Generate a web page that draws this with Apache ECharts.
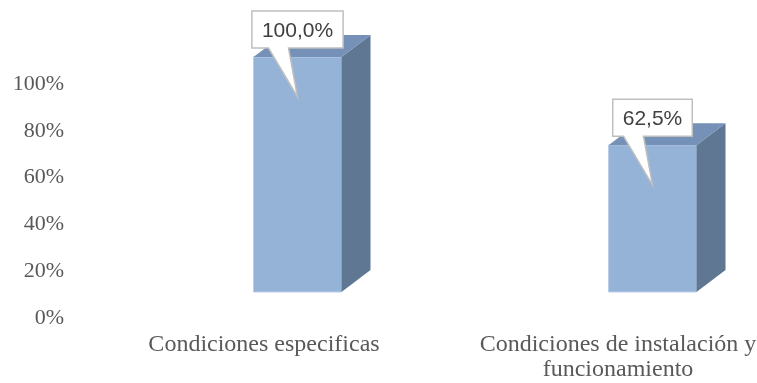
<!DOCTYPE html>
<html>
<head>
<meta charset="utf-8">
<script src="https://cdn.jsdelivr.net/npm/echarts@6/dist/echarts.min.js"></script>
<style>html,body{margin:0;padding:0;background:#fff;}#c{width:757px;height:383px;}</style>
</head>
<body>
<div id="c"></div>
<script>
var categories = ['Condiciones especificas', 'Condiciones de instalación y\nfuncionamiento'];
var values = [1.0, 0.625];
var valueLabels = ['100,0%', '62,5%'];
var yTicks = [0, 0.2, 0.4, 0.6, 0.8, 1.0];

var chart = echarts.init(document.getElementById('c'), null, {renderer: 'canvas'});
var measureCtx = document.createElement('canvas').getContext('2d');
var LABEL_FONT = '21px "Liberation Sans", Arial, sans-serif';
measureCtx.font = LABEL_FONT;

var FRONT_W = 88, DX = 29, DY = 22;

function renderBar(params, api) {
  var idx = api.value(0);
  var top = api.coord([idx, api.value(1)]);
  var base = api.coord([idx, 0]);
  var cx = top[0];
  var x0 = cx - FRONT_W / 2, x1 = cx + FRONT_W / 2;
  var yt = top[1], yb = base[1];
  var text = valueLabels[params.dataIndex];
  var w = measureCtx.measureText(text).width + 20;
  var boxB = yt - 9, boxT = boxB - 37;
  var boxL = cx - w / 2, boxR = cx + w / 2;
  return {
    type: 'group',
    children: [
      {type: 'rect', shape: {x: x0, y: yt, width: FRONT_W, height: yb - yt},
       style: {fill: '#95B3D7', stroke: '#B9CDE6', lineWidth: 1}},
      {type: 'polygon', shape: {points: [[x1, yb], [x1 + DX, yb - DY], [x1 + DX, yt - DY], [x1, yt]]},
       style: {fill: '#5F7793'}},
      {type: 'polygon', shape: {points: [[x0, yt], [x1, yt], [x1 + DX, yt - DY], [x0 + DX, yt - DY]]},
       style: {fill: '#7591B8'}},
      {type: 'polygon', z2: 10, shape: {points: [[boxL, boxT], [boxR, boxT], [boxR, boxB], [cx - 9, boxB], [cx, yt + 40], [cx - 29, boxB], [boxL, boxB]]},
       style: {fill: '#FFFFFF', stroke: '#BFBFBF', lineWidth: 1.5}},
      {type: 'text', z2: 11, style: {text: text, x: cx, y: (boxT + boxB) / 2 + 2, align: 'center', verticalAlign: 'middle',
       font: LABEL_FONT, fill: '#404040'}}
    ]
  };
}

var option = {
  animation: false,
  backgroundColor: '#ffffff',
  grid: [
    {left: 87, width: 708, top: 84, height: 234, containLabel: false, outerBoundsMode: 'none'},
    {left: 120, width: 710, top: 57, height: 235, containLabel: false, outerBoundsMode: 'none'}
  ],
  xAxis: [
    {type: 'category', gridIndex: 0, data: categories,
     axisLine: {show: false}, axisTick: {show: false},
     axisLabel: {margin: 14, interval: 0, color: '#595959', fontFamily: '"Liberation Serif", "Times New Roman", serif', fontSize: 24, lineHeight: 25}},
    {type: 'category', gridIndex: 1, data: categories, show: false}
  ],
  yAxis: [
    {type: 'value', gridIndex: 0, min: 0, max: 1, interval: 0.2,
     axisLine: {show: false}, axisTick: {show: false}, splitLine: {show: false},
     axisLabel: {margin: 23, color: '#595959', fontFamily: '"Liberation Serif", "Times New Roman", serif', fontSize: 22,
       formatter: function (v) { return Math.round(v * 100) + '%'; }}},
    {type: 'value', gridIndex: 1, min: 0, max: 1, show: false}
  ],
  series: [{
    type: 'custom',
    xAxisIndex: 1, yAxisIndex: 1,
    renderItem: renderBar,
    data: values.map(function (v, i) { return [i, v]; })
  }]
};
chart.setOption(option);
</script>
</body>
</html>
